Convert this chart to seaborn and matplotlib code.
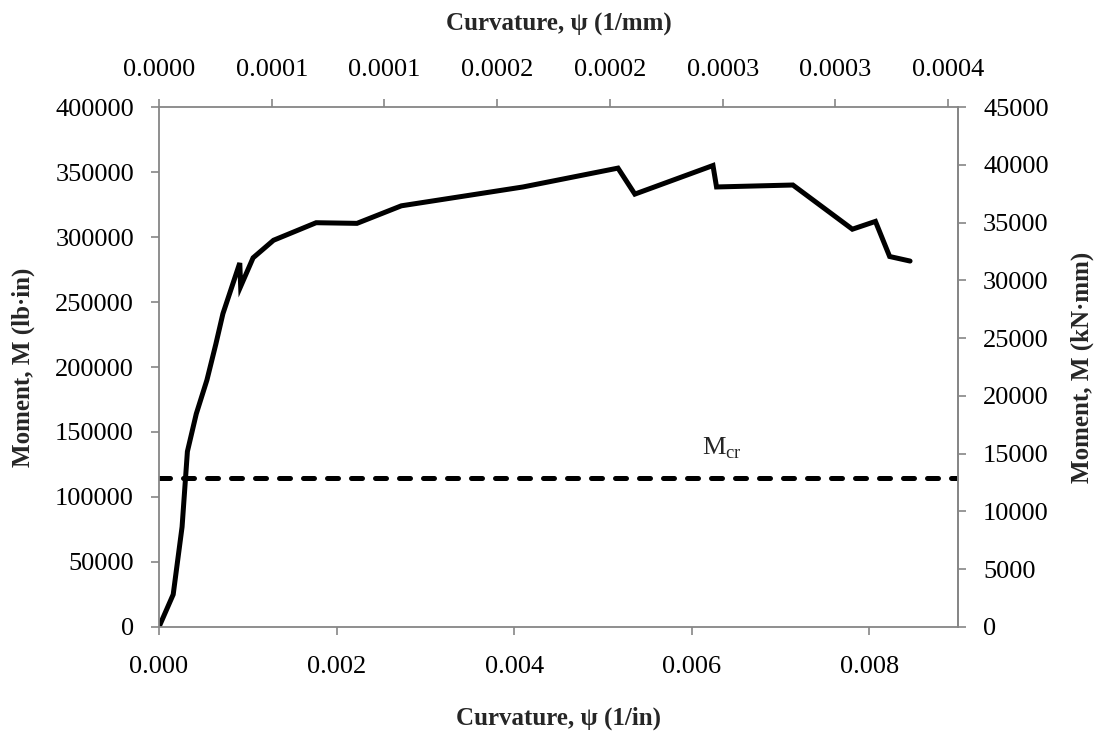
import matplotlib
matplotlib.use("Agg")
import matplotlib.pyplot as plt
import seaborn as sns

# curvature (1/in) and moment (lb-in)
curv_in = [0.0, 0.00016, 0.00026, 0.00032, 0.00042, 0.00054, 0.00064, 0.00072,
           0.00091, 0.00092, 0.00106, 0.00129, 0.00177, 0.00223, 0.00273, 0.00410,
           0.00517, 0.00536, 0.00624, 0.00628, 0.00714, 0.00781, 0.00807, 0.00823,
           0.00846]
moment = [0, 25000, 77000, 135000, 164000, 190000, 217500, 241000,
          280000, 262000, 284000, 297500, 311000, 310500, 324000, 338500,
          353000, 333000, 355000, 338500, 340000, 306000, 312000, 285000,
          281500]
m_cr = 114500

bottom_ticks = [0.000, 0.002, 0.004, 0.006, 0.008]
bottom_labels = ["0.000", "0.002", "0.004", "0.006", "0.008"]
top_ticks = [0.0, 0.00005, 0.0001, 0.00015, 0.0002, 0.00025, 0.0003, 0.00035]
top_labels = ["0.0000", "0.0001", "0.0001", "0.0002", "0.0002", "0.0003", "0.0003", "0.0004"]
left_ticks = list(range(0, 400001, 50000))
right_ticks = list(range(0, 45001, 5000))

sns.set_style("white")
plt.rcParams["font.family"] = ["Liberation Serif", "DejaVu Serif"]
plt.rcParams["mathtext.fontset"] = "custom"
plt.rcParams["mathtext.rm"] = "Liberation Serif"

axis_grey = "#868686"
fs = 19      # tick labels
title_fs = 18

fig = plt.figure(figsize=(10.98, 7.34), dpi=100)
ax = fig.add_axes([0.1448, 0.1458, 0.7277, 0.7084])

sns.lineplot(x=curv_in, y=moment, ax=ax, color="black", lw=3.6,
             sort=False, estimator=None, solid_joinstyle="miter")
ax.axhline(m_cr, color="black", lw=3.6, linestyle=(0, (2.2, 2.6)),
           dash_capstyle="round")
ax.text(0.00612, m_cr + 18500, r"M$_{\mathrm{cr}}$", fontsize=19, va="baseline")

ax.set_xlim(0, 0.009)
ax.set_ylim(0, 400000)
ax.set_xticks(bottom_ticks, labels=bottom_labels)
ax.set_yticks(left_ticks)

for s in ax.spines.values():
    s.set_color(axis_grey)
    s.set_linewidth(1.3)
ax.spines["top"].set_visible(False)
ax.tick_params(axis="both", direction="out", length=6, width=1.2, color=axis_grey,
               labelsize=fs, labelcolor="black", bottom=True, left=True)
ax.tick_params(axis="x", pad=15)
ax.tick_params(axis="y", pad=12)

ax.set_xlabel("Curvature, \u03c8 (1/in)", fontsize=title_fs, fontweight="bold", va="center")
ax.xaxis.set_label_coords(0.5, -0.175)
ax.set_ylabel("Moment, M (lb\u00b7in)", fontsize=title_fs, fontweight="bold", va="center")
ax.yaxis.set_label_coords(-0.170, 0.5)

# top axis in 1/mm
secax = ax.secondary_xaxis("top", functions=(lambda x: x / 25.4, lambda x: x * 25.4))
secax.set_xticks(top_ticks, labels=top_labels)
secax.spines["top"].set_color(axis_grey)
secax.spines["top"].set_linewidth(1.3)
secax.tick_params(axis="x", direction="out", length=6, width=1.2, color=axis_grey,
                  labelsize=fs, labelcolor="black", pad=13)
secax.set_xlabel("Curvature, \u03c8 (1/mm)", fontsize=title_fs, fontweight="bold",
                 labelpad=20)

# right axis in kN-mm
ax2 = ax.twinx()
ax2.set_ylim(0, 45000)
ax2.set_yticks(right_ticks)
for k in ["left", "top", "bottom"]:
    ax2.spines[k].set_visible(False)
ax2.spines["right"].set_color(axis_grey)
ax2.spines["right"].set_linewidth(1.3)
ax2.tick_params(axis="y", direction="out", length=6, width=1.2, color=axis_grey,
                labelsize=fs, labelcolor="black", pad=12, right=True)
ax2.set_ylabel("Moment, M (kN\u00b7mm)", fontsize=title_fs, fontweight="bold",
               va="center", rotation=90)
ax2.yaxis.set_label_coords(1.155, 0.5)

fig.savefig("out.png", dpi=100)
